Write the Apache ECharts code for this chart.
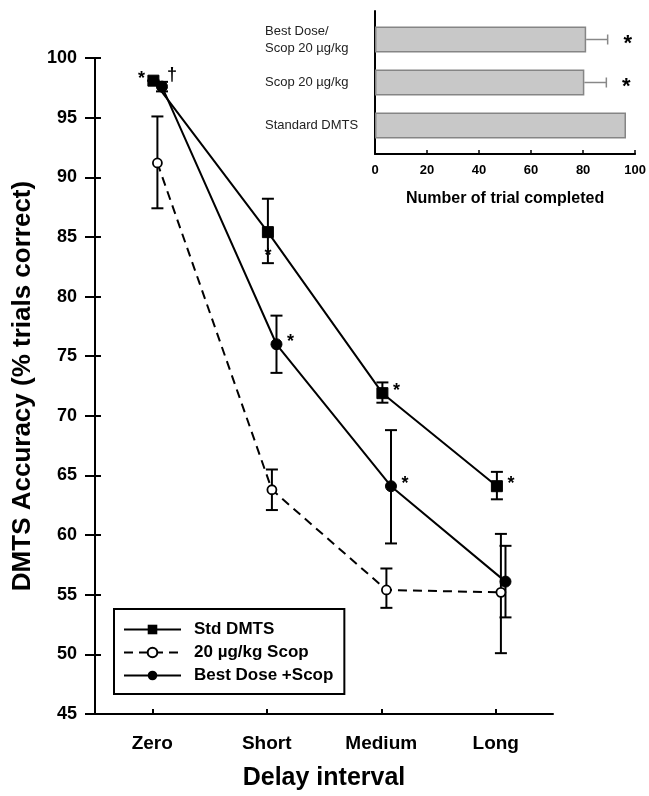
<!DOCTYPE html>
<html><head><meta charset="utf-8">
<script src="https://cdn.jsdelivr.net/npm/echarts@6/dist/echarts.min.js"></script>
<style>html,body{margin:0;padding:0;background:#fff}#c{width:649px;height:796px}</style>
</head><body><div id="c"></div>
<script>
// ---- data ----
const categories = ['Zero', 'Short', 'Medium', 'Long'];
const yTicks = [45, 50, 55, 60, 65, 70, 75, 80, 85, 90, 95, 100];
const stdMean = [98.1, 85.4, 71.9, 64.1];
const stdLow  = [98.1, 82.8, 71.1, 63.0];
const stdHigh = [98.1, 88.2, 72.8, 65.3];
const scopMean = [91.2, 63.8, 55.4, 55.2];
const scopLow  = [87.4, 62.1, 53.9, 50.1];
const scopHigh = [95.1, 65.5, 57.2, 60.1];
const bestMean = [97.6, 76.0, 64.1, 56.1];
const bestLow  = [97.2, 73.6, 59.3, 53.1];
const bestHigh = [98.0, 78.4, 68.8, 59.1];
const seriesNames = ['Std DMTS', '20 \u00b5g/kg Scop', 'Best Dose +Scop'];
// inset
const insetCats = ['Standard DMTS', 'Scop 20 \u00b5g/kg', 'Best Dose/\nScop 20 \u00b5g/kg'];
const insetVals = [95.8, 79.9, 80.6];
const insetErrHigh = [95.8, 88.3, 88.8];
const insetStars = ['', '*', '*'];
const insetTicks = [0, 20, 40, 60, 80, 100];
// significance marks: [series index, category index, text, side]
const marks = [
  [0, 0, '*', 'left'], [0, 1, '*', 'below'], [0, 2, '*', 'right'], [0, 3, '*', 'right'],
  [2, 0, '\u2020', 'above'], [2, 1, '*', 'right'], [2, 2, '*', 'right']
];

// ---- build ----
const offsets = [0.01, 0.045, 0.085];
const means = [stdMean, scopMean, bestMean];
const lows = [stdLow, scopLow, bestLow];
const highs = [stdHigh, scopHigh, bestHigh];
const F = 'Liberation Sans, Arial, sans-serif';

function pts(si) { return means[si].map((v, i) => [i + offsets[si], v]); }
function errs(si) { return means[si].map((v, i) => [i + offsets[si], lows[si][i], highs[si][i]]); }

function vErr(params, api) {
  const x = api.value(0), lo = api.value(1), hi = api.value(2);
  const a = api.coord([x, lo]), b = api.coord([x, hi]);
  const w = 6, st = { stroke: '#000', lineWidth: 2 };
  return { type: 'group', children: [
    { type: 'line', shape: { x1: a[0], y1: a[1], x2: b[0], y2: b[1] }, style: st },
    { type: 'line', shape: { x1: a[0] - w, y1: a[1], x2: a[0] + w, y2: a[1] }, style: st },
    { type: 'line', shape: { x1: b[0] - w, y1: b[1], x2: b[0] + w, y2: b[1] }, style: st }
  ]};
}
function hErr(params, api) {
  const c = api.value(0), v = api.value(1), hi = api.value(2);
  const a = api.coord([v, c]), b = api.coord([hi, c]);
  const st = { stroke: '#888', lineWidth: 1.5 };
  const children = [];
  if (hi > v) {
    children.push({ type: 'line', shape: { x1: a[0], y1: a[1], x2: b[0], y2: b[1] }, style: st });
    children.push({ type: 'line', shape: { x1: b[0], y1: b[1] - 5, x2: b[0], y2: b[1] + 5 }, style: st });
  }
  const s = insetStars[params.dataIndex];
  if (s) children.push({ type: 'text', style: { text: s, x: b[0] + 20, y: b[1] + 4, fill: '#000', font: 'bold 22px ' + F, align: 'center', verticalAlign: 'middle' } });
  return { type: 'group', children };
}
function markRender(params, api) {
  const si = api.value(0), ci = api.value(1);
  const m = marks[params.dataIndex];
  const p = api.coord([ci + offsets[si], means[si][ci]]);
  let x = p[0], y = p[1], align = 'center';
  if (m[3] === 'left') { x -= 12; y -= 2; }
  else if (m[3] === 'right') { x += 14; y -= 2; }
  else if (m[3] === 'below') { y += 24; }
  else if (m[3] === 'above') { x += 10; y -= 12; }
  return { type: 'text', style: { text: m[2], x, y, fill: '#000', font: 'bold 18px ' + F, align, verticalAlign: 'middle' } };
}

const lineCommon = { type: 'line', xAxisIndex: 1, yAxisIndex: 0, z: 4, lineStyle: { color: '#000', width: 2 }, itemStyle: { color: '#000', borderColor: '#000' } };
const tickStyle = { color: '#000', width: 2 };

const option = {
  animation: false,
  backgroundColor: '#fff',
  grid: [
    { left: 95, right: 96, top: 58, bottom: 81 },
    { left: 375, right: 12, top: 11, bottom: 642 },
    { left: 375, right: 12, top: 18, bottom: 649 }
  ],
  legend: {
    data: seriesNames, orient: 'vertical', left: 114, top: 609,
    borderColor: '#000', borderWidth: 2, padding: [12, 11, 10, 9], itemGap: 6,
    itemWidth: 57, itemHeight: 12,
    textStyle: { fontFamily: F, fontWeight: 'bold', fontSize: 17, color: '#000', padding: [0, 0, 0, 8] },
    backgroundColor: '#fff'
  },
  xAxis: [
    { type: 'category', gridIndex: 0, position: 'bottom', data: categories, boundaryGap: true,
      axisLine: { onZero: false, lineStyle: { color: '#000', width: 2 } },
      axisTick: { alignWithLabel: true, length: 7, lineStyle: tickStyle },
      axisLabel: { color: '#000', fontFamily: F, fontWeight: 'bold', fontSize: 19, margin: 20 },
      name: 'Delay interval', nameLocation: 'middle', nameGap: 52,
      nameTextStyle: { color: '#000', fontFamily: F, fontWeight: 'bold', fontSize: 25 } },
    { type: 'value', gridIndex: 0, min: -0.5, max: 3.5, show: false },
    { type: 'value', gridIndex: 1, min: 0, max: 100, interval: 20,
      axisLine: { show: true, onZero: false, lineStyle: { color: '#000', width: 2 } },
      axisTick: { show: true, inside: true, length: 4, lineStyle: { color: '#000', width: 1.5 } },
      splitLine: { show: false },
      axisLabel: { color: '#000', fontFamily: F, fontWeight: 'bold', fontSize: 13, margin: 10,
        formatter: v => insetTicks.includes(v) ? String(v) : '' },
      name: 'Number of trial completed', nameLocation: 'middle', nameGap: 37,
      nameTextStyle: { color: '#000', fontFamily: F, fontWeight: 'bold', fontSize: 16 } },
    { type: 'value', gridIndex: 2, min: 0, max: 100, show: false },
    { type: 'category', gridIndex: 0, position: 'bottom', data: categories, boundaryGap: true,
      axisLine: { show: false, onZero: false }, axisLabel: { show: false },
      axisTick: { show: true, inside: true, alignWithLabel: true, length: 5, lineStyle: tickStyle } }
  ],
  yAxis: [
    { type: 'value', gridIndex: 0, position: 'left', min: 45, max: 100, interval: 5,
      axisLine: { show: true, onZero: false, lineStyle: { color: '#000', width: 2 } },
      axisTick: { show: true, length: 10, lineStyle: tickStyle },
      splitLine: { show: false },
      axisLabel: { color: '#000', fontFamily: F, fontWeight: 'bold', fontSize: 18, margin: 18,
        formatter: v => yTicks.includes(v) ? String(v) : '' },
      name: 'DMTS Accuracy (% trials correct)', nameLocation: 'middle', nameGap: 57,
      nameTextStyle: { color: '#000', fontFamily: F, fontWeight: 'bold', fontSize: 26 } },
    { type: 'value', gridIndex: 0, position: 'left', offset: 0, min: 45, max: 100, interval: 5,
      axisLine: { show: false, onZero: false }, axisLabel: { show: false }, splitLine: { show: false },
      axisTick: { show: true, inside: true, length: 6, lineStyle: tickStyle } },
    { type: 'value', gridIndex: 1, min: 0, max: 1,
      axisLine: { show: true, onZero: false, lineStyle: { color: '#000', width: 2 } },
      axisTick: { show: false }, axisLabel: { show: false }, splitLine: { show: false } },
    { type: 'category', gridIndex: 2, data: insetCats,
      axisLine: { show: false, onZero: false }, axisTick: { show: false },
      axisLabel: { align: 'left', margin: 110, color: '#222', fontFamily: F, fontSize: 13, lineHeight: 17 } }
  ],
  series: [
    Object.assign({}, lineCommon, { name: seriesNames[0], data: pts(0), symbol: 'rect', symbolSize: 11 }),
    Object.assign({}, lineCommon, { name: seriesNames[1], data: pts(1), symbol: 'circle', symbolSize: 9,
      lineStyle: { color: '#000', width: 2, type: [9, 6] }, itemStyle: { color: '#fff', borderColor: '#000', borderWidth: 1.8 } }),
    Object.assign({}, lineCommon, { name: seriesNames[2], data: pts(2), symbol: 'circle', symbolSize: 11 }),
    { type: 'custom', name: 'e0', xAxisIndex: 1, yAxisIndex: 0, z: 3, renderItem: vErr, data: errs(0), encode: { x: 0, y: [1, 2] } },
    { type: 'custom', name: 'e1', xAxisIndex: 1, yAxisIndex: 0, z: 3, renderItem: vErr, data: errs(1), encode: { x: 0, y: [1, 2] } },
    { type: 'custom', name: 'e2', xAxisIndex: 1, yAxisIndex: 0, z: 3, renderItem: vErr, data: errs(2), encode: { x: 0, y: [1, 2] } },
    { type: 'custom', name: 'marks', xAxisIndex: 1, yAxisIndex: 0, z: 5, renderItem: markRender,
      data: marks.map(m => [m[0], m[1]]) },
    { type: 'bar', xAxisIndex: 3, yAxisIndex: 3, data: insetVals, barWidth: 26,
      itemStyle: { color: '#c8c8c8', borderColor: '#858585', borderWidth: 1.5 } },
    { type: 'custom', xAxisIndex: 3, yAxisIndex: 3, z: 3, renderItem: hErr,
      data: insetVals.map((v, i) => [i, v, insetErrHigh[i]]) }
  ]
};
echarts.init(document.getElementById('c')).setOption(option);
</script></body></html>
